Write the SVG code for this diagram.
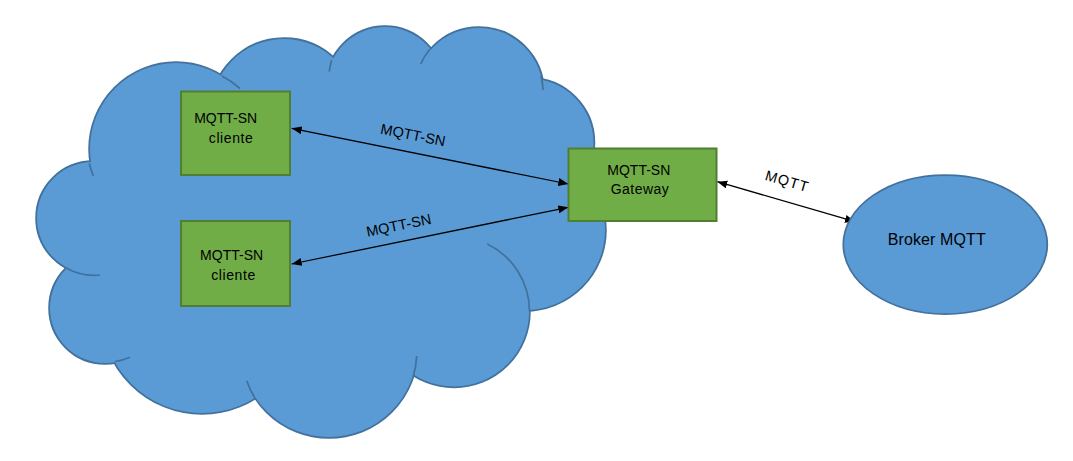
<svg xmlns="http://www.w3.org/2000/svg" width="1073" height="461" viewBox="0 0 1073 461">
<style>
.lobe{fill:#5B9BD5;stroke:#41719C;stroke-width:3.5}
.lobefill{fill:#5B9BD5;stroke:none}
.stub{fill:none;stroke:#41719C;stroke-width:1.75}
.box{fill:#70AD47;stroke:#507E32;stroke-width:2}
.oval{fill:#5B9BD5;stroke:#41719C;stroke-width:1.75}
.t{font-family:"Liberation Sans",Arial,sans-serif;font-size:14px;fill:#000;text-anchor:middle}
.lbl{font-family:"Liberation Sans",Arial,sans-serif;font-size:14.5px;fill:#000;text-anchor:middle}
.conn{stroke:#000;stroke-width:1.25;fill:none;marker-start:url(#ah);marker-end:url(#ah)}
</style>
<defs>
<marker id="ah" markerUnits="userSpaceOnUse" markerWidth="11" markerHeight="9" refX="10" refY="4" orient="auto-start-reverse">
<path d="M0,0 L10,4 L0,8 Z" fill="#000"/>
</marker>
</defs>
<rect x="0" y="0" width="1073" height="461" fill="#FFFFFF"/>
<g id="cloud">
<g>
<circle class="lobe" cx="176" cy="149" r="86"/>
<circle class="lobe" cx="284" cy="112" r="73"/>
<circle class="lobe" cx="385" cy="85" r="58"/>
<circle class="lobe" cx="479" cy="92" r="64"/>
<circle class="lobe" cx="529.5" cy="142.7" r="64"/>
<circle class="lobe" cx="525" cy="230" r="80"/>
<circle class="lobe" cx="454" cy="311.5" r="75"/>
<circle class="lobe" cx="329" cy="349" r="88"/>
<circle class="lobe" cx="202" cy="313" r="100"/>
<circle class="lobe" cx="105" cy="308" r="55"/>
<circle class="lobe" cx="93" cy="218" r="56"/>
</g>
<g>
<circle class="lobefill" cx="176" cy="149" r="86"/>
<circle class="lobefill" cx="284" cy="112" r="73"/>
<circle class="lobefill" cx="385" cy="85" r="58"/>
<circle class="lobefill" cx="479" cy="92" r="64"/>
<circle class="lobefill" cx="529.5" cy="142.7" r="64"/>
<circle class="lobefill" cx="525" cy="230" r="80"/>
<circle class="lobefill" cx="454" cy="311.5" r="75"/>
<circle class="lobefill" cx="329" cy="349" r="88"/>
<circle class="lobefill" cx="202" cy="313" r="100"/>
<circle class="lobefill" cx="105" cy="308" r="55"/>
<circle class="lobefill" cx="93" cy="218" r="56"/>
<polygon class="lobefill" points="176,149 284,112 385,85 479,92 529.5,142.7 525,230 454,311.5 329,349 202,313 105,308 93,218"/>
</g>
<g>
<path class="stub" d="M222,76 A86,86 0 0 1 240,88.5"/>
<path class="stub" d="M331.7,60 A58,58 0 0 0 329.3,71.7"/>
<path class="stub" d="M430,49 A64,64 0 0 0 420.7,64"/>
<path class="stub" d="M541,76 A64,64 0 0 1 543,90"/>
<path class="stub" d="M487.3,244 A75,75 0 0 1 529.5,311"/>
<path class="stub" d="M416.7,356 A88,88 0 0 1 413.3,376.5"/>
<path class="stub" d="M255,398.3 A88,88 0 0 1 246.7,380.7"/>
<path class="stub" d="M115,361.5 A55,55 0 0 0 130,357.3"/>
<path class="stub" d="M66.7,268.3 A56,56 0 0 0 100,275"/>
<path class="stub" d="M89.3,163.3 A86,86 0 0 0 93.3,176"/>
</g>
</g>
<g id="connectors">
<line class="conn" x1="291.7" y1="128.3" x2="568.3" y2="184"/>
<line class="conn" x1="568.3" y1="207.3" x2="291.7" y2="264"/>
<line class="conn" x1="717.3" y1="181.7" x2="855" y2="221.7"/>
<text class="lbl" transform="translate(413,135) rotate(11.4)" x="0" y="5" textLength="66">MQTT-SN</text>
<text class="lbl" transform="translate(398.7,225.3) rotate(-11.6)" x="0" y="5" textLength="66">MQTT-SN</text>
<text class="lbl" transform="translate(786.7,181) rotate(16.2)" x="0" y="5" textLength="44">MQTT</text>
</g>
<g id="client1">
<rect class="box" x="181" y="91.5" width="109" height="83.5"/>
<text class="t" x="225.7" y="123">MQTT-SN</text>
<text class="t" x="230.8" y="143" textLength="44">cliente</text>
</g>
<g id="client2">
<rect class="box" x="181" y="221" width="109" height="85"/>
<text class="t" x="231.6" y="259.5">MQTT-SN</text>
<text class="t" x="233.2" y="279.5" textLength="44">cliente</text>
</g>
<g id="gateway">
<rect class="box" x="568.5" y="148.5" width="148" height="72.5"/>
<text class="t" x="638.8" y="175">MQTT-SN</text>
<text class="t" x="639.7" y="194" textLength="58">Gateway</text>
</g>
<g id="broker">
<ellipse class="oval" cx="945.3" cy="244.5" rx="102" ry="69.5"/>
<text class="t" style="font-size:16px" x="936.7" y="245" textLength="98">Broker MQTT</text>
</g>
</svg>
